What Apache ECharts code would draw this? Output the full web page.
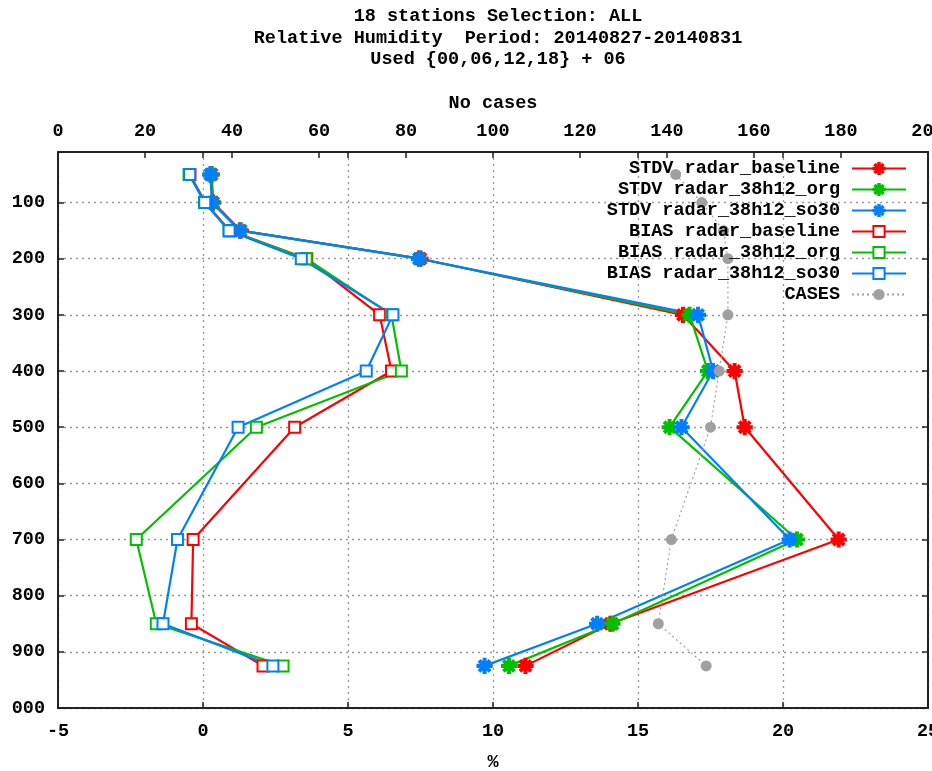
<!DOCTYPE html>
<html>
<head>
<meta charset="utf-8">
<script src="https://cdn.jsdelivr.net/npm/echarts@6/dist/echarts.min.js"></script>
<style>html,body{margin:0;padding:0;background:#fff;}#c{width:932px;height:771px;}</style>
</head>
<body>
<div id="c"></div>
<script>
const titleLines = ['18 stations Selection: ALL', 'Relative Humidity  Period: 20140827-20140831', 'Used {00,06,12,18} + 06'];
const levels = [50, 100, 150, 200, 300, 400, 500, 700, 850, 925];
const stdvBaseline = [0.3, 0.35, 1.3, 7.5, 16.55, 18.33, 18.68, 21.92, 14.05, 11.12];
const stdvOrg = [0.28, 0.33, 1.28, 7.45, 16.78, 17.41, 16.09, 20.48, 14.12, 10.55];
const stdvSo30 = [0.25, 0.31, 1.27, 7.45, 17.07, 17.59, 16.5, 20.23, 13.59, 9.71];
const biasBaseline = [-0.45, 0.08, 0.92, 3.58, 6.09, 6.5, 3.16, -0.34, -0.4, 2.07];
const biasOrg = [-0.48, 0.05, 0.9, 3.56, 6.5, 6.84, 1.84, -2.3, -1.61, 2.76];
const biasSo30 = [-0.46, 0.06, 0.9, 3.39, 6.55, 5.63, 1.21, -0.88, -1.38, 2.41];
const cases = [142, 148, 153, 154, 154, 152, 150, 141, 138, 149];
const yTicks = [100, 200, 300, 400, 500, 600, 700, 800, 900, 1000];
const yTickLabels = ['100', '200', '300', '400', '500', '600', '700', '800', '900', '000'];
const seriesNames = ['STDV radar_baseline', 'STDV radar_38h12_org', 'STDV radar_38h12_so30',
  'BIAS radar_baseline', 'BIAS radar_38h12_org', 'BIAS radar_38h12_so30', 'CASES'];

const FONT = '"Liberation Mono", "DejaVu Sans Mono", monospace';
const FS = 18.5;
const RED = '#ff0000', GREEN = '#00c000', BLUE = '#0080ff', GREY = '#a0a0a0';
const STAR = 'path://M0,8.7L20,8.7L20,11.3L0,11.3Z M8.7,0L11.3,0L11.3,20L8.7,20Z M2.3,4.1L4.1,2.3L17.7,15.9L15.9,17.7Z M15.9,2.3L17.7,4.1L4.1,17.7L2.3,15.9Z';

function pairs(vals) { return vals.map((v, i) => [v, levels[i]]); }

function lineSeries(name, vals, color, isStar) {
  return {
    name: name, type: 'line', xAxisIndex: 0, yAxisIndex: 0,
    data: pairs(vals),
    symbol: isStar ? STAR : 'emptyRect',
    symbolSize: isStar ? 14 : 11,
    showAllSymbol: true,
    lineStyle: { color: color, width: 2.2 },
    itemStyle: { color: color, borderColor: color, borderWidth: 2.2 },
    emphasis: { disabled: true },
    animation: false
  };
}

const chart = echarts.init(document.getElementById('c'), null, { renderer: 'canvas' });
const axisLineStyle = { color: '#222', width: 2 };
const gridLineStyle = { color: '#999', width: 1.3, type: [2, 4] };
const labelStyle = { fontFamily: FONT, fontSize: FS, fontWeight: 'bold', color: '#000' };
const tickStyle = { color: '#222', width: 1.5 };

chart.setOption({
  backgroundColor: '#fff',
  animation: false,
  title: {
    text: titleLines.join('\n'),
    left: 493, top: 1, textAlign: 'center',
    textStyle: { fontFamily: FONT, fontSize: FS, fontWeight: 'bold', color: '#000', lineHeight: 21.5 }
  },
  legend: {
    orient: 'vertical', align: 'right',
    right: 20, top: 153,
    itemWidth: 54, itemHeight: 14, itemGap: 0,
    data: seriesNames,
    textStyle: { fontFamily: FONT, fontSize: FS, fontWeight: 'bold', color: '#000', lineHeight: 21, padding: [0, 7, 0, 0] },
    selectedMode: false
  },
  grid: { left: 58, right: 4, top: 152, bottom: 63, containLabel: false, outerBoundsMode: 'none' },
  xAxis: [
    {
      type: 'value', position: 'bottom', min: -5, max: 25, interval: 5,
      name: '%', nameLocation: 'middle', nameGap: 45,
      nameTextStyle: labelStyle,
      axisLine: { show: true, onZero: false, lineStyle: axisLineStyle },
      axisTick: { show: true, inside: true, length: 6, lineStyle: tickStyle },
      axisLabel: Object.assign({ margin: 14, showMaxLabel: true }, labelStyle),
      splitLine: { show: true, lineStyle: gridLineStyle }
    },
    {
      type: 'value', position: 'top', min: 0, max: 200, interval: 20,
      name: 'No cases', nameLocation: 'middle', nameGap: 39,
      nameTextStyle: labelStyle,
      axisLine: { show: true, onZero: false, lineStyle: axisLineStyle },
      axisTick: { show: true, inside: true, length: 6, lineStyle: tickStyle },
      axisLabel: Object.assign({ margin: 11, showMaxLabel: true }, labelStyle),
      splitLine: { show: false }
    },
    {
      type: 'value', position: 'top', min: -5, max: 25, interval: 5,
      axisLine: { show: false, onZero: false },
      axisTick: { show: true, inside: true, length: 6, lineStyle: tickStyle },
      axisLabel: { show: false },
      splitLine: { show: false }
    }
  ],
  yAxis: [
    {
      type: 'value', position: 'left', inverse: true, min: 10, max: 1000,
      axisLine: { show: true, onZero: false, lineStyle: axisLineStyle },
      axisTick: { show: true, inside: true, length: 6, customValues: yTicks, lineStyle: tickStyle },
      axisLabel: Object.assign({ margin: 13, customValues: yTicks,
        formatter: function (v) { const i = yTicks.indexOf(v); return i >= 0 ? yTickLabels[i] : ''; } }, labelStyle),
      splitLine: { show: true, lineStyle: gridLineStyle }
    },
    {
      type: 'value', position: 'right', inverse: true, min: 10, max: 1000,
      axisLine: { show: true, onZero: false, lineStyle: axisLineStyle },
      axisTick: { show: true, inside: true, length: 6, customValues: yTicks, lineStyle: tickStyle },
      axisLabel: { show: false, customValues: yTicks },
      splitLine: { show: false }
    }
  ],
  series: [
    lineSeries(seriesNames[0], stdvBaseline, RED, true),
    lineSeries(seriesNames[1], stdvOrg, GREEN, true),
    lineSeries(seriesNames[2], stdvSo30, BLUE, true),
    lineSeries(seriesNames[3], biasBaseline, RED, false),
    lineSeries(seriesNames[4], biasOrg, GREEN, false),
    lineSeries(seriesNames[5], biasSo30, BLUE, false),
    {
      name: seriesNames[6], type: 'line', xAxisIndex: 1, yAxisIndex: 0,
      data: cases.map((v, i) => [v, levels[i]]),
      symbol: 'circle', symbolSize: 11, showAllSymbol: true,
      lineStyle: { color: GREY, width: 1.2, type: [2, 3] },
      itemStyle: { color: GREY },
      emphasis: { disabled: true },
      animation: false
    }
  ]
});
</script>
</body>
</html>
